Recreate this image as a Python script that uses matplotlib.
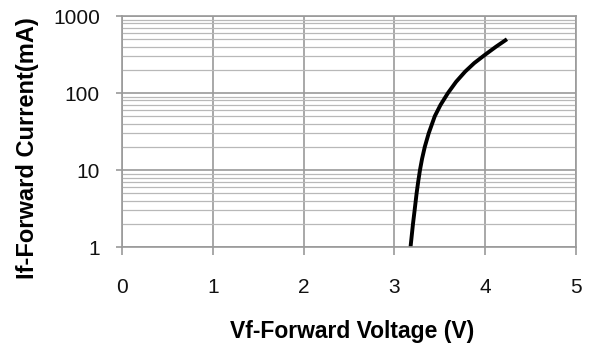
import matplotlib
matplotlib.use("Agg")
import matplotlib.pyplot as plt
from matplotlib.ticker import LogLocator, FixedLocator, NullFormatter

plt.rcParams["font.family"] = ["Liberation Sans", "DejaVu Sans"]

# forward voltage (V) vs forward current (mA)
vf = [3.178, 3.205, 3.223, 3.245, 3.262, 3.282, 3.305, 3.335, 3.378, 3.445,
      3.508, 3.59, 3.68, 3.78, 3.88, 4.00, 4.12, 4.24]
i_f = [1, 2, 3, 5, 7, 10, 14, 20, 30, 50,
       70, 100, 140, 190, 245, 315, 400, 500]

x_ticks = [0, 1, 2, 3, 4, 5]
y_ticks = [1, 10, 100, 1000]
y_labels = ["1", "10", "100", "1000"]

fig = plt.figure(figsize=(5.95, 3.48), dpi=100)
# axes box: x 122..576 px, y 16..247 px
ax = fig.add_axes([0.205, 0.29, 0.763, 0.664])

ax.set_yscale("log")
ax.set_xlim(0, 5)
ax.set_ylim(1, 1000)

ax.xaxis.set_major_locator(FixedLocator(x_ticks))
ax.yaxis.set_major_locator(FixedLocator(y_ticks))
ax.set_yticklabels(y_labels)
ax.yaxis.set_minor_locator(LogLocator(base=10, subs=range(2, 10)))
ax.yaxis.set_minor_formatter(NullFormatter())

ax.grid(True, which="major", axis="both", color="#9a9a9a", linewidth=1.2)
ax.grid(True, which="minor", axis="y", color="#b8b8b8", linewidth=0.9)
ax.set_axisbelow(True)

ax.plot(vf, i_f, color="black", linewidth=2.8, solid_capstyle="butt")

for s in ax.spines.values():
    s.set_color("#9a9a9a")
    s.set_linewidth(1.2)

ax.tick_params(axis="both", which="major", color="#9a9a9a",
               labelsize=15, width=1.2, labelcolor="#111111")
ax.tick_params(axis="x", length=6, pad=16)
ax.tick_params(axis="y", length=4, pad=12)
ax.tick_params(axis="y", which="minor", length=0)

ax.set_xlabel("Vf-Forward Voltage (V)", fontsize=16.5, fontweight="bold", va="center")
ax.xaxis.set_label_coords(0.506, -0.364)
ax.set_ylabel("If-Forward Current(mA)", fontsize=17, fontweight="bold", va="center")
ax.yaxis.set_label_coords(-0.209, 0.43)

fig.savefig("out.png", dpi=100)
